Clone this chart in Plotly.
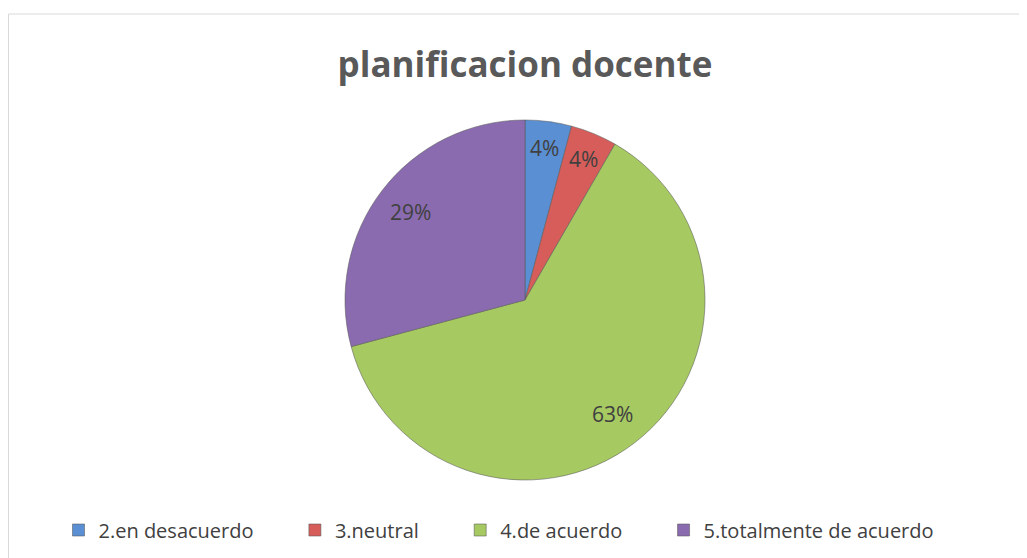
import math
import plotly.graph_objects as go

labels = ['2.en desacuerdo', '3.neutral', '4.de acuerdo', '5.totalmente de acuerdo']
values = [1, 1, 15, 7]
colors = ['#5A8FD3', '#D65D5A', '#A6C962', '#8A6BAF']

# page body adds an 8px margin, so figure coords are screen coords minus 8
OFF = 8
W, H = 1027 - OFF, 558 - OFF
cx, cy, rad = 525 - OFF, 300 - OFF, 180

# wider spacing between legend entries (Excel style)
legend_names = [l + '\u00a0' * 7 for l in labels[:-1]] + [labels[-1]]

fig = go.Figure()

fig.add_trace(go.Pie(
    labels=legend_names,
    values=values,
    customdata=labels,
    sort=False,
    direction='clockwise',
    rotation=0,
    textinfo='none',
    hovertemplate='%{customdata}<br>%{percent}<extra></extra>',
    marker=dict(colors=colors, line=dict(color='rgba(90,90,90,0.55)', width=1)),
    domain=dict(x=[(cx - rad) / W, (cx + rad) / W],
                y=[(H - cy - rad) / H, (H - cy + rad) / H]),
))

# percentage labels inside each slice, positioned from the values
total = sum(values)
start = 0.0
annotations = []
for v in values:
    frac = v / total
    mid = (start + frac / 2) * 2 * math.pi
    start += frac
    k = 0.85 if frac < 0.1 else 0.8
    px = cx + k * rad * math.sin(mid)
    py = cy - k * rad * math.cos(mid)
    annotations.append(dict(
        x=px / W, y=(H - py) / H, xref='paper', yref='paper',
        xanchor='center', yanchor='middle',
        text=f'{int(frac * 100 + 0.5)}%', showarrow=False,
        font=dict(size=21, color='#404040', family='Open Sans'),
    ))

fig.update_layout(
    width=W, height=H,
    margin=dict(l=0, r=0, t=0, b=0),
    paper_bgcolor='white',
    plot_bgcolor='white',
    title=dict(text='<b>planificacion docente</b>', x=cx / W, xanchor='center',
               y=(H - (65 - OFF)) / H, yanchor='middle',
               font=dict(size=35, color='#595959', family='Open Sans')),
    annotations=annotations,
    showlegend=True,
    legend=dict(orientation='h', x=(499 - OFF) / W, xanchor='center',
                y=(H - (530 - OFF)) / H, yanchor='middle',
                font=dict(size=20, color='#404040', family='Open Sans'),
                itemwidth=30),
    shapes=[dict(type='rect', xref='paper', yref='paper',
                 x0=0.5 / W, x1=1.02, y0=-0.05, y1=(H - (14 - OFF)) / H,
                 line=dict(color='#D9D9D9', width=1), layer='below')],
)

fig.write_html("out.html")
